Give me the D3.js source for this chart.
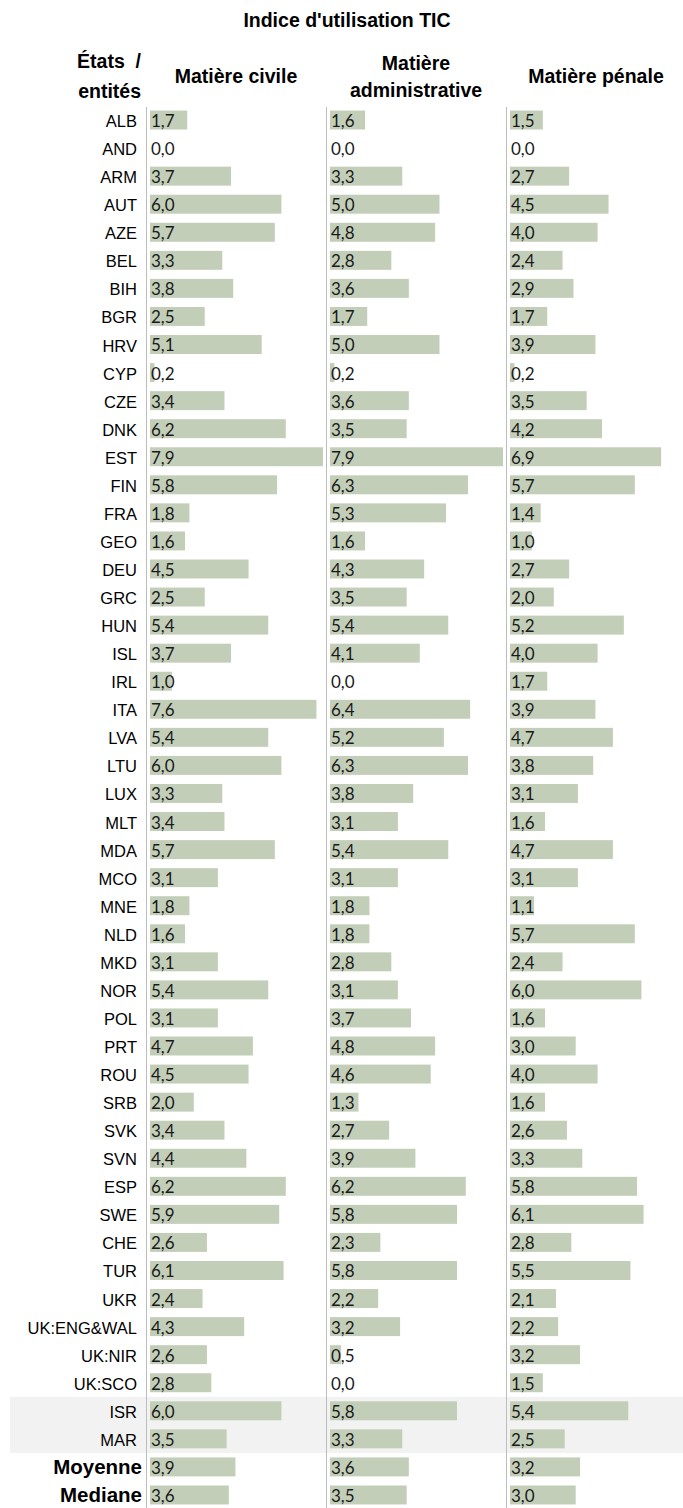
<!DOCTYPE html>
<html>
<head>
<meta charset="utf-8">
<script src="https://cdn.jsdelivr.net/npm/d3@7"></script>
<style>
  html, body { margin: 0; padding: 0; background: #fff; }
  svg { display: block; }
</style>
</head>
<body>
<svg id="chart" width="683" height="1508"></svg>
<script>
// Rows: member states / entities, followed by the two summary rows
const states = ["ALB","AND","ARM","AUT","AZE","BEL","BIH","BGR","HRV","CYP","CZE","DNK","EST","FIN","FRA","GEO","DEU","GRC","HUN","ISL","IRL","ITA","LVA","LTU","LUX","MLT","MDA","MCO","MNE","NLD","MKD","NOR","POL","PRT","ROU","SRB","SVK","SVN","ESP","SWE","CHE","TUR","UKR","UK:ENG&WAL","UK:NIR","UK:SCO","ISR","MAR"];
const summaryRows = ["Moyenne","Mediane"];
const observerStates = ["ISR","MAR"];

const columns = ["Matière civile", "Matière administrative", "Matière pénale"];

const civile = [1.7,0.0,3.7,6.0,5.7,3.3,3.8,2.5,5.1,0.2,3.4,6.2,7.9,5.8,1.8,1.6,4.5,2.5,5.4,3.7,1.0,7.6,5.4,6.0,3.3,3.4,5.7,3.1,1.8,1.6,3.1,5.4,3.1,4.7,4.5,2.0,3.4,4.4,6.2,5.9,2.6,6.1,2.4,4.3,2.6,2.8,6.0,3.5,3.9,3.6];
const administrative = [1.6,0.0,3.3,5.0,4.8,2.8,3.6,1.7,5.0,0.2,3.6,3.5,7.9,6.3,5.3,1.6,4.3,3.5,5.4,4.1,0.0,6.4,5.2,6.3,3.8,3.1,5.4,3.1,1.8,1.8,2.8,3.1,3.7,4.8,4.6,1.3,2.7,3.9,6.2,5.8,2.3,5.8,2.2,3.2,0.5,0.0,5.8,3.3,3.6,3.5];
const penale = [1.5,0.0,2.7,4.5,4.0,2.4,2.9,1.7,3.9,0.2,3.5,4.2,6.9,5.7,1.4,1.0,2.7,2.0,5.2,4.0,1.7,3.9,4.7,3.8,3.1,1.6,4.7,3.1,1.1,5.7,2.4,6.0,1.6,3.0,4.0,1.6,2.6,3.3,5.8,6.1,2.8,5.5,2.1,2.2,3.2,1.5,5.4,2.5,3.2,3.0];

const rows = states.concat(summaryRows);
const series = [civile, administrative, penale];

const svg = d3.select("#chart");
const W = 683, H = 1508;

const y = d3.scaleBand()
  .domain(rows)
  .range([106, 106 + rows.length * 28.06])
  .paddingInner(0.324)
  .paddingOuter(0.162);

const col = d3.scaleBand()
  .domain(columns)
  .range([146, 686]);

const x = d3.scaleLinear().domain([0, 7.9]).range([0, 173]);

const fmt = v => d3.format(".1f")(v).replace(".", ",");
const pad = y.step() * y.paddingInner() / 2;

const headFont = "'Liberation Sans', Arial, sans-serif";

// shaded band behind the non-member rows
const bandTop = y(observerStates[0]) - pad;
const bandBottom = y(observerStates[observerStates.length - 1]) + y.bandwidth() + pad;
svg.append("rect")
  .attr("x", 10)
  .attr("y", bandTop)
  .attr("width", W - 10)
  .attr("height", bandBottom - bandTop)
  .attr("fill", "#f2f2f2");

// title
svg.append("text")
  .attr("x", 347).attr("y", 27)
  .attr("text-anchor", "middle")
  .style("font-family", headFont)
  .style("font-weight", "bold")
  .style("font-size", "19.5px")
  .attr("fill", "#000")
  .text("Indice d'utilisation TIC");

// row header
const hdr = svg.append("text")
  .attr("text-anchor", "end")
  .style("font-family", headFont)
  .style("font-weight", "bold")
  .style("font-size", "19.5px")
  .attr("fill", "#000");
hdr.append("tspan").attr("x", 141).attr("y", 68).text("États\u00A0\u00A0/");
hdr.append("tspan").attr("x", 141).attr("y", 98).text("entités");

// column headers
const headerLines = {
  "Matière civile": [["Matière civile", 83]],
  "Matière administrative": [["Matière", 70], ["administrative", 97]],
  "Matière pénale": [["Matière pénale", 83]]
};
columns.forEach(c => {
  const t = svg.append("text")
    .attr("text-anchor", "middle")
    .style("font-family", headFont)
    .style("font-weight", "bold")
    .style("font-size", "19.5px")
    .attr("fill", "#000");
  headerLines[c].forEach(([s, yy]) => {
    t.append("tspan").attr("x", col(c) + col.bandwidth() / 2).attr("y", yy).text(s);
  });
});

// column separators
svg.selectAll("line.sep")
  .data(columns)
  .join("line")
  .attr("class", "sep")
  .attr("x1", d => col(d) + 0.5).attr("x2", d => col(d) + 0.5)
  .attr("y1", 107).attr("y2", H)
  .attr("stroke", "#bdbdbd")
  .attr("stroke-width", 1);

// row labels
svg.selectAll("text.row")
  .data(rows)
  .join("text")
  .attr("class", "row")
  .attr("x", d => summaryRows.includes(d) ? 142 : 137)
  .attr("y", d => y(d) + y.bandwidth() / 2 + 7)
  .attr("text-anchor", "end")
  .style("font-family", headFont)
  .style("font-size", d => summaryRows.includes(d) ? "20.5px" : "16.5px")
  .style("font-weight", d => summaryRows.includes(d) ? "bold" : "normal")
  .attr("fill", "#000")
  .text(d => d);

// bars and value labels
columns.forEach((c, ci) => {
  const data = rows.map((r, i) => ({ row: r, value: series[ci][i] }));
  const g = svg.append("g").attr("transform", `translate(${col(c) + 4},0)`);
  g.selectAll("rect")
    .data(data)
    .join("rect")
    .attr("x", 0)
    .attr("y", d => y(d.row))
    .attr("width", d => x(d.value))
    .attr("height", y.bandwidth())
    .attr("fill", "#c3ceb9");
  g.selectAll("text")
    .data(data)
    .join("text")
    .attr("x", 1)
    .attr("y", d => y(d.row) + y.bandwidth() - 2.5)
    .style("font-family", "Lato, 'Open Sans', sans-serif")
    .style("font-size", "17px")
    .attr("fill", "#1a1a1a")
    .text(d => fmt(d.value));
});
</script>
</body>
</html>
